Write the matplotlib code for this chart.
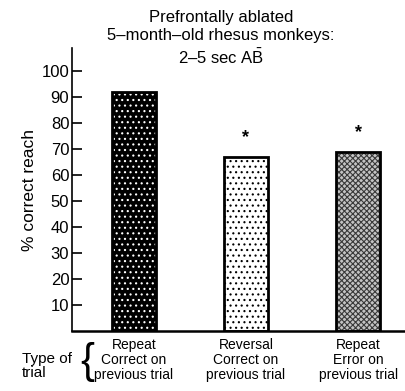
import matplotlib
matplotlib.use('Agg')
import matplotlib.pyplot as plt

plt.rcParams['font.family'] = ['Liberation Sans', 'DejaVu Sans']
plt.rcParams['mathtext.fontset'] = 'custom'
plt.rcParams['mathtext.rm'] = 'Liberation Sans'
plt.rcParams['hatch.linewidth'] = 0.8

trial_type = ['Repeat', 'Reversal', 'Repeat']
prev_outcome = ['Correct on', 'Correct on', 'Error on']
prev_label = ['previous trial', 'previous trial', 'previous trial']
pct_correct = [92, 67, 69]
significant = [False, True, True]
yticks = [10, 20, 30, 40, 50, 60, 70, 80, 90, 100]

fig = plt.figure(figsize=(4.05, 3.91), dpi=100, facecolor='w')
ax = fig.add_axes([0.178, 0.153, 0.82, 0.724])

x = range(len(pct_correct))
faces = ['black', 'white', '#c4c4c4']
hatch_cols = ['white', 'black', '#3a3a3a']
hatches = ['...', '...', 'xxxxxx']
for i, v in enumerate(pct_correct):
    ax.bar(i, v, width=0.39, color=faces[i], edgecolor=hatch_cols[i],
           hatch=hatches[i], linewidth=0)
    ax.bar(i, v, width=0.39, color='none', edgecolor='black', linewidth=2)
    if significant[i]:
        ax.text(i, v + 7.5, '*', ha='center', va='center', fontsize=13,
                fontweight='bold')

ax.set_xlim(-0.55, 2.41)
ax.set_ylim(0, 109)
ax.set_yticks(yticks)
ax.tick_params(axis='y', direction='in', length=7, width=1.2, labelsize=12, pad=2)
ax.set_xticks(list(x))
ax.set_xticklabels([f'{a}\n{b}\n{c}' for a, b, c in zip(trial_type, prev_outcome, prev_label)],
                   fontsize=10, linespacing=1.1)
ax.tick_params(axis='x', length=0, pad=5)
for s in ['top', 'right']:
    ax.spines[s].set_visible(False)
ax.spines['left'].set_linewidth(1.2)
ax.spines['bottom'].set_linewidth(1.8)

ax.set_ylabel('% correct reach', fontsize=12.5, labelpad=3)

fig.text(0.545, 0.975, 'Prefrontally ablated\n5\u2013month\u2013old rhesus monkeys:\n2\u20135 sec A$\\mathrm{\\bar{B}}$',
         ha='center', va='top', fontsize=12, linespacing=1.3)

fig.text(0.055, 0.065, 'Type of\ntrial', ha='left', va='center', fontsize=11, linespacing=1.0)
fig.text(0.215, 0.075, '{', ha='center', va='center', fontsize=30, fontweight='light')

plt.savefig('out.png', dpi=100)
